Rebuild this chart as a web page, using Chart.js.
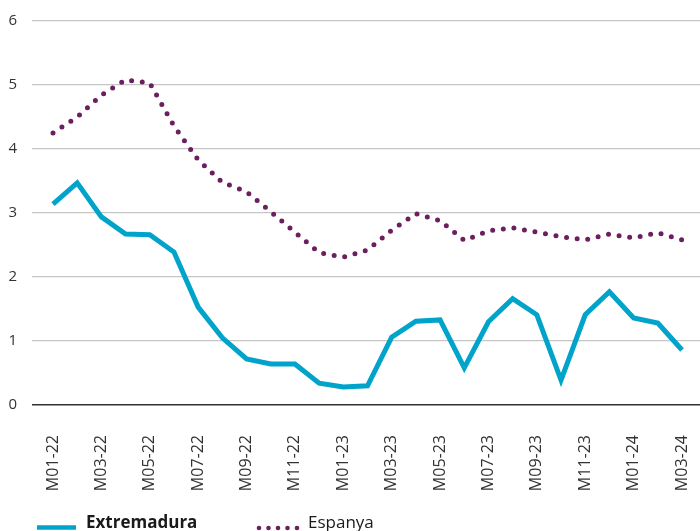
<!DOCTYPE html>
<html>
<head>
<meta charset="utf-8">
<script src="https://cdn.jsdelivr.net/npm/chart.js@4/dist/chart.umd.min.js"></script>
<style>
  html, body { margin: 0; padding: 0; background: #fff; }
  #wrap { position: relative; width: 700px; height: 531px; overflow: hidden; }
  #c { position: absolute; left: 0; top: 0; }
  .leg { position: absolute; font-family: "Open Sans", sans-serif; color: #1a1a1a; white-space: nowrap; }
</style>
</head>
<body>
<div id="wrap">
  <canvas id="c" width="700" height="531"></canvas>
  <svg class="leg" style="left:36px;top:522px" width="42" height="9"><line x1="1" y1="5.5" x2="40" y2="5.5" stroke="#00A3C9" stroke-width="4.5"/></svg>
  <div class="leg" style="left:86px;top:510px;font-size:17px;font-weight:bold;line-height:24px;">Extremadura</div>
  <svg class="leg" style="left:254px;top:522px" width="48" height="10">
    <g fill="#6B1F5E"><circle cx="5" cy="6" r="2.3"/><circle cx="14.5" cy="6" r="2.3"/><circle cx="24" cy="6" r="2.3"/><circle cx="33.5" cy="6" r="2.3"/><circle cx="43" cy="6" r="2.3"/></g>
  </svg>
  <div class="leg" style="left:308px;top:510px;font-size:17px;line-height:24px;">Espanya</div>
</div>
<script>
const months = ["M01-22","M02-22","M03-22","M04-22","M05-22","M06-22","M07-22","M08-22","M09-22","M10-22","M11-22","M12-22",
                "M01-23","M02-23","M03-23","M04-23","M05-23","M06-23","M07-23","M08-23","M09-23","M10-23","M11-23","M12-23",
                "M01-24","M02-24","M03-24"];
const extremadura = [3.14,3.47,2.94,2.67,2.66,2.39,1.53,1.05,0.72,0.64,0.64,0.34,0.28,0.30,1.06,1.31,1.33,0.58,1.30,1.66,1.41,0.39,1.41,1.77,1.36,1.28,0.86];
const espanya = [4.25,4.50,4.84,5.08,5.03,4.36,3.83,3.48,3.33,3.02,2.70,2.38,2.31,2.42,2.73,2.99,2.88,2.57,2.72,2.77,2.70,2.63,2.58,2.67,2.61,2.69,2.58];
const yTicks = [0,1,2,3,4,5,6];
const xTickEvery = 2;

const toPts = arr => arr.map((v, i) => ({x: i, y: v}));
const FONT = "'Open Sans', sans-serif";

new Chart(document.getElementById('c'), {
  type: 'line',
  data: {
    datasets: [
      { label: 'Espanya', data: toPts(espanya), borderColor: '#6B1F5E', borderWidth: 5,
        borderDash: [0, 10.7], borderCapStyle: 'round', pointRadius: 0, tension: 0, fill: false },
      { label: 'Extremadura', data: toPts(extremadura), borderColor: '#00A3C9', borderWidth: 5,
        borderJoinStyle: 'miter', borderCapStyle: 'butt', pointRadius: 0, tension: 0, fill: false }
    ]
  },
  options: {
    responsive: false,
    animation: false,
    events: [],
    layout: { padding: { top: 21, left: 0, right: 0, bottom: 0 } },
    plugins: { legend: { display: false }, tooltip: { enabled: false } },
    scales: {
      x: {
        type: 'linear',
        min: -0.868,
        max: 26.744,
        grid: { display: false, drawTicks: false },
        border: { display: false },
        afterBuildTicks: s => { s.ticks = months.map((m, i) => i).filter(i => i % xTickEvery === 0).map(v => ({ value: v })); },
        afterFit: s => { s.height = 126; s.paddingLeft = 0; s.paddingRight = 0; },
        ticks: {
          autoSkip: false, minRotation: 90, maxRotation: 90, padding: 30,
          color: '#333', font: { family: FONT, size: 16 },
          callback: v => months[v]
        }
      },
      y: {
        min: 0, max: 6,
        afterBuildTicks: s => { s.ticks = yTicks.map(v => ({ value: v })); },
        afterFit: s => { s.width = 32; s.paddingTop = 0; s.paddingBottom = 0; },
        border: { display: false },
        grid: {
          drawTicks: false,
          color: c => c.tick && c.tick.value === 0 ? '#333' : '#c6c6c6',
          lineWidth: c => c.tick && c.tick.value === 0 ? 1.6 : 1.2
        },
        ticks: { padding: 15, color: '#333', font: { family: FONT, size: 15 } }
      }
    }
  }
});
</script>
</body>
</html>
